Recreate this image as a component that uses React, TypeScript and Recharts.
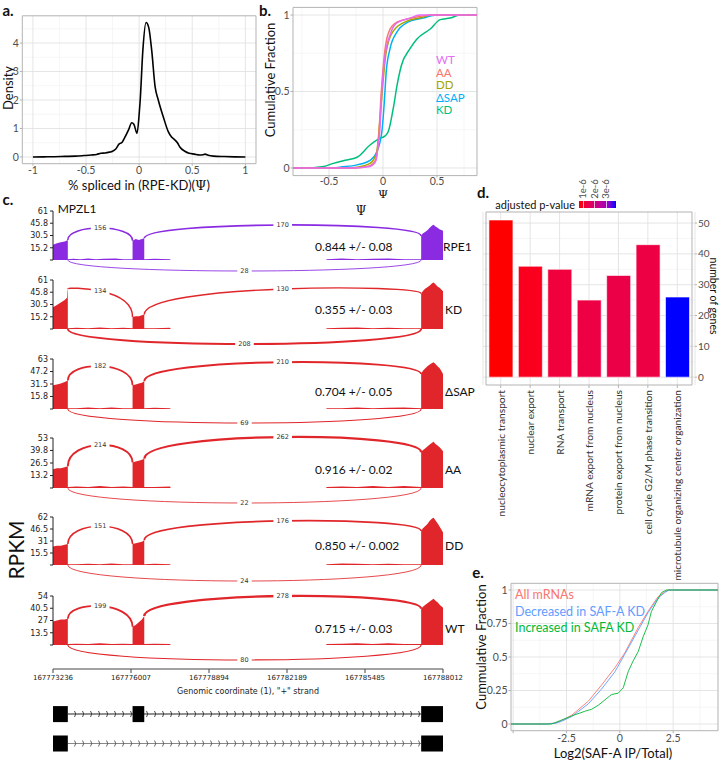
import React from 'react';
import {
  ComposedChart, BarChart, Bar, Cell, Line, Area, XAxis, YAxis, CartesianGrid,
  ReferenceArea, ReferenceLine, ReferenceDot,
} from 'recharts';

const FONT = 'Lato, "Open Sans", sans-serif';
const DJV = '"DejaVu Sans", sans-serif';
const GRID_MAJOR = '#e2e2e2';
const GRID_MINOR = '#f0f0f0';
const FRAME = '#b3b3b3';
const TICK_TEXT = '#4d4d4d';

// a. density of psi difference (RPE - KD)
const DENSITY: [number, number][] = [
  [-1, 0], [-0.9, 0.005], [-0.8, 0.01], [-0.7, 0.02], [-0.6, 0.03], [-0.52, 0.05], [-0.45, 0.07],
  [-0.4, 0.09], [-0.36, 0.13], [-0.32, 0.14], [-0.28, 0.17], [-0.25, 0.2], [-0.22, 0.28], [-0.19, 0.45],
  [-0.16, 0.52], [-0.13, 0.72], [-0.1, 0.95], [-0.07, 1.2], [-0.05, 1.15], [-0.02, 0.83], [0, 1.5],
  [0.01, 2.0], [0.035, 3.75], [0.065, 4.72], [0.09, 4.55], [0.118, 3.75], [0.15, 2.47], [0.18, 2.0],
  [0.227, 1.41], [0.274, 0.89], [0.305, 0.7], [0.33, 0.62], [0.36, 0.5], [0.383, 0.35], [0.43, 0.2],
  [0.47, 0.13], [0.52, 0.1], [0.57, 0.07], [0.6, 0.08], [0.62, 0.1], [0.65, 0.06], [0.7, 0.03],
  [0.8, 0.015], [0.9, 0.005], [1, 0],
];

// b. cumulative psi per sample
const CDF_WT: [number, number][] = [
  [-0.83, 0], [-0.3, 0], [-0.17, 0.005], [-0.12, 0.01], [-0.08, 0.03], [-0.065, 0.05], [-0.05, 0.12],
  [-0.03, 0.24], [-0.01, 0.52], [0.02, 0.74], [0.065, 0.87], [0.13, 0.95], [0.25, 0.98], [0.34, 1], [0.87, 1],
];
const CDF_AA: [number, number][] = [
  [-0.83, 0], [-0.25, 0], [-0.12, 0.015], [-0.07, 0.05], [-0.04, 0.2], [-0.02, 0.45], [0.01, 0.72],
  [0.04, 0.86], [0.1, 0.94], [0.2, 0.97], [0.3, 0.985], [0.45, 1], [0.87, 1],
];
const CDF_DD: [number, number][] = [
  [-0.83, 0], [-0.3, 0], [-0.24, 0.005], [-0.12, 0.03], [-0.06, 0.1], [-0.03, 0.3], [0, 0.56],
  [0.03, 0.76], [0.1, 0.9], [0.22, 0.96], [0.37, 0.985], [0.44, 1], [0.87, 1],
];
const CDF_DSAP: [number, number][] = [
  [-0.83, 0], [-0.45, 0], [-0.4, 0.005], [-0.24, 0.02], [-0.12, 0.05], [-0.06, 0.1], [-0.01, 0.24],
  [0.01, 0.41], [0.03, 0.63], [0.065, 0.78], [0.13, 0.89], [0.22, 0.95], [0.37, 0.98], [0.5, 1], [0.87, 1],
];
const CDF_KD: [number, number][] = [
  [-0.83, 0], [-0.74, 0], [-0.55, 0.01], [-0.46, 0.03], [-0.35, 0.05], [-0.24, 0.07], [-0.12, 0.15],
  [-0.04, 0.19], [0.02, 0.21], [0.05, 0.24], [0.1, 0.41], [0.13, 0.54], [0.17, 0.67], [0.25, 0.78],
  [0.31, 0.84], [0.44, 0.91], [0.53, 0.97], [0.62, 0.98], [0.71, 1], [0.87, 1],
];
const B_NAMES = ['WT', 'AA', 'DD', 'ΔSAP', 'KD'];
const B_COLORS = ['#E76BF3', '#F8766D', '#A3A500', '#00B0F6', '#00BF7D'];
const B_CURVES = [CDF_WT, CDF_AA, CDF_DD, CDF_DSAP, CDF_KD];

// c. sashimi plot, x in units of the genomic axis ticks
const GENOMIC_TICKS = ['167773236', '167776007', '167778894', '167782189', '167785485', '167788012'];
const EXONS: [number, number][] = [[0, 0.19], [1.02, 1.17], [4.72, 5]];
const SAMPLES = ['RPE1', 'KD', 'ΔSAP', 'AA', 'DD', 'WT'];
const PSI = ['0.844 +/- 0.08', '0.355 +/- 0.03', '0.704 +/- 0.05', '0.916 +/- 0.02', '0.850 +/- 0.002', '0.715 +/- 0.03'];
const RPKM_TICKS = [
  [15.2, 30.5, 45.8, 61], [15.2, 30.5, 45.8, 61], [15.8, 31.5, 47.2, 63],
  [13.2, 26.5, 39.8, 53], [15.5, 31, 46.5, 62], [13.5, 27, 40.5, 54],
];
const COVERAGE: [number, number][][] = [
  [[0, 0], [0, 19], [0.05, 21], [0.1, 22], [0.15, 23], [0.19, 25], [0.19, 1], [0.26, 1.5], [0.35, 1], [0.45, 2], [0.55, 1], [0.65, 1.5], [0.8, 2], [0.9, 1], [1.02, 1],
    [1.02, 24], [1.06, 26], [1.1, 25], [1.14, 26], [1.17, 27], [1.17, 1], [1.3, 1.5], [1.5, 1], [1.51, 0], [3.5, 0], [3.51, 1], [3.7, 2], [3.9, 1], [4.1, 1.5], [4.3, 2], [4.5, 1], [4.72, 1],
    [4.72, 30], [4.74, 33], [4.77, 35], [4.8, 37], [4.83, 40], [4.86, 43], [4.88, 44], [4.9, 42], [4.93, 40], [4.96, 38], [4.99, 37], [5, 36], [5, 0]],
  [[0, 0], [0, 27], [0.05, 30], [0.1, 33], [0.15, 36], [0.18, 39], [0.185, 48], [0.19, 50], [0.19, 1], [0.3, 1.5], [0.45, 1], [0.6, 2], [0.75, 1], [0.9, 1.5], [1.02, 1],
    [1.02, 15], [1.06, 16], [1.1, 16], [1.14, 17], [1.17, 18], [1.17, 1], [1.3, 1], [1.5, 1.5], [1.51, 0], [3.5, 0], [3.51, 1], [3.7, 1.5], [3.9, 2], [4.1, 1], [4.3, 1.5], [4.5, 1], [4.72, 1],
    [4.72, 44], [4.74, 47], [4.77, 50], [4.8, 52], [4.83, 54], [4.86, 57], [4.88, 58], [4.9, 56], [4.93, 53], [4.96, 51], [4.99, 48], [5, 47], [5, 0]],
  [[0, 0], [0, 30], [0.05, 31], [0.1, 32], [0.15, 34], [0.19, 36], [0.19, 1], [0.3, 1], [0.45, 2], [0.6, 1], [0.75, 2], [0.9, 1], [1.02, 1],
    [1.02, 30], [1.06, 31], [1.1, 32], [1.14, 33], [1.17, 35], [1.17, 1], [1.3, 1.5], [1.5, 1], [1.51, 0], [3.5, 0], [3.51, 1], [3.7, 1], [3.9, 2], [4.1, 1], [4.3, 1.5], [4.5, 2], [4.72, 1],
    [4.72, 44], [4.74, 48], [4.77, 51], [4.8, 54], [4.83, 56], [4.86, 58], [4.88, 59], [4.9, 57], [4.93, 54], [4.96, 51], [4.99, 46], [5, 44], [5, 0]],
  [[0, 0], [0, 20], [0.05, 21], [0.1, 21], [0.15, 22], [0.19, 23], [0.19, 1], [0.3, 1.5], [0.45, 1], [0.6, 2], [0.75, 1], [0.9, 1.5], [1.02, 1],
    [1.02, 27], [1.06, 28], [1.1, 29], [1.14, 30], [1.17, 31], [1.17, 1], [1.3, 1], [1.5, 1.5], [1.51, 0], [3.5, 0], [3.51, 1], [3.7, 1.5], [3.9, 1], [4.1, 2], [4.3, 1], [4.5, 2], [4.72, 1],
    [4.72, 38], [4.74, 40], [4.77, 42], [4.8, 44], [4.83, 46], [4.86, 48], [4.88, 49], [4.9, 47], [4.93, 45], [4.96, 43], [4.99, 40], [5, 39], [5, 0]],
  [[0, 0], [0, 24], [0.05, 25], [0.1, 25], [0.15, 26], [0.19, 27], [0.19, 1], [0.3, 1], [0.45, 1.5], [0.6, 1], [0.75, 2], [0.9, 1], [1.02, 1],
    [1.02, 27], [1.06, 28], [1.1, 29], [1.14, 30], [1.17, 32], [1.17, 1], [1.3, 1.5], [1.5, 1], [1.51, 0], [3.5, 0], [3.51, 1], [3.7, 2], [3.9, 1.5], [4.1, 1], [4.3, 1.5], [4.5, 1], [4.72, 1],
    [4.72, 44], [4.74, 47], [4.77, 50], [4.8, 53], [4.83, 57], [4.86, 60], [4.88, 61], [4.9, 58], [4.93, 54], [4.96, 49], [4.99, 44], [5, 42], [5, 0]],
  [[0, 0], [0, 26], [0.05, 27], [0.1, 28], [0.15, 28], [0.19, 29], [0.19, 1], [0.3, 1.5], [0.45, 1], [0.6, 2], [0.75, 1], [0.9, 1.5], [1.02, 1],
    [1.02, 20], [1.06, 22], [1.1, 25], [1.14, 28], [1.17, 32], [1.17, 1], [1.3, 1.5], [1.5, 1], [1.51, 0], [3.5, 0], [3.51, 1], [3.7, 1.5], [3.9, 2], [4.1, 1], [4.3, 2], [4.5, 1], [4.72, 1],
    [4.72, 40], [4.74, 42], [4.77, 44], [4.8, 46], [4.83, 48], [4.86, 50], [4.88, 51], [4.9, 49], [4.93, 47], [4.96, 44], [4.99, 42], [5, 41], [5, 0]],
];
// junctions: [from, to, coverage at from, coverage at to, arc apex, reads]
const JUNCTIONS: number[][][] = [
  [[0.19, 1.02, 25, 24, 39.8, 156], [1.17, 4.72, 27, 30, 43.6, 170], [0.19, 4.72, 0, 0, -13.7, 28]],
  [[0.19, 1.02, 50, 15, 47.3, 134], [1.17, 4.72, 18, 44, 49.8, 130], [0.19, 4.72, 0, 0, -18.7, 208]],
  [[0.19, 1.02, 36, 30, 54, 182], [1.17, 4.72, 35, 44, 59, 210], [0.19, 4.72, 0, 0, -17.6, 69]],
  [[0.19, 1.02, 23, 27, 45.6, 214], [1.17, 4.72, 31, 38, 54, 262], [0.19, 4.72, 0, 0, -15.9, 22]],
  [[0.19, 1.02, 27, 27, 50, 151], [1.17, 4.72, 32, 44, 57, 176], [0.19, 4.72, 0, 0, -20.7, 24]],
  [[0.19, 1.02, 29, 20, 43, 199], [1.17, 4.72, 32, 40, 54, 278], [0.19, 4.72, 0, 0, -16.5, 80]],
];
// isoforms drawn under the tracks (indices into EXONS)
const ISOFORMS = [[0, 1, 2], [0, 2]];

// d. GO enrichment
const GO_TERMS = [
  'nucleocytoplasmic transport', 'nuclear export', 'RNA transport', 'mRNA export from nucleus',
  'protein export from nucleus', 'cell cycle G2/M phase transition', 'microtubule organizing center organization',
];
const GO_GENES = [51, 36, 35, 25, 33, 43, 26];
const GO_PADJ = [6.5e-7, 8.5e-7, 1.2e-6, 1.3e-6, 1.35e-6, 1.3e-6, 3.87e-6];
const PADJ_TICKS = [1e-6, 2e-6, 3e-6];

// e. cumulative SAF-A IP / total
const E_ALL: [number, number][] = [
  [-5.1, 0], [-3.5, 0], [-3, 0.008], [-2.73, 0.025], [-2.26, 0.065], [-1.48, 0.17], [-0.86, 0.29],
  [-0.23, 0.42], [0.23, 0.53], [0.86, 0.72], [1.32, 0.84], [1.79, 0.95], [2.1, 0.985], [2.26, 1], [4.6, 1],
];
const E_DEC: [number, number][] = [
  [-5.1, 0], [-3.4, 0], [-3, 0.006], [-2.73, 0.02], [-2.26, 0.055], [-1.48, 0.15], [-0.86, 0.26],
  [-0.23, 0.39], [0.23, 0.52], [0.86, 0.7], [1.32, 0.83], [1.79, 0.94], [2.1, 0.98], [2.3, 1], [4.6, 1],
];
const E_INC: [number, number][] = [
  [-5.1, 0], [-3.2, 0], [-3.04, 0.01], [-2.8, 0.025], [-2.26, 0.06], [-1.64, 0.095], [-1.32, 0.11],
  [-1.01, 0.14], [-0.7, 0.18], [-0.39, 0.22], [-0.08, 0.23], [0.16, 0.27], [0.39, 0.39], [0.62, 0.47],
  [0.86, 0.54], [1.09, 0.65], [1.32, 0.74], [1.48, 0.84], [1.71, 0.91], [1.95, 0.98], [2.18, 1], [4.6, 1],
];
const E_NAMES = ['All mRNAs', 'Decreased in SAF-A KD', 'Increased in SAFA KD'];
const E_COLORS = ['#F8766D', '#619CFF', '#00BA38'];
const E_CURVES = [E_ALL, E_DEC, E_INC];

const pts = (a: [number, number][]) => a.map(([x, y]) => ({ x, y }));

// red -> blue gradient interpolated in CIELAB (like ggplot)
const lin = (c: number) => { c /= 255; return c <= 0.04045 ? c / 12.92 : Math.pow((c + 0.055) / 1.055, 2.4); };
const gam = (c: number) => {
  const v = c <= 0.0031308 ? 12.92 * c : 1.055 * Math.pow(c, 1 / 2.4) - 0.055;
  return Math.round(Math.min(1, Math.max(0, v)) * 255);
};
const labF = (t: number) => (t > 0.008856 ? Math.cbrt(t) : 7.787 * t + 16 / 116);
function toLab(r: number, g: number, b: number) {
  const R = lin(r), G = lin(g), B = lin(b);
  const X = (0.4124 * R + 0.3576 * G + 0.1805 * B) / 0.95047;
  const Y = 0.2126 * R + 0.7152 * G + 0.0722 * B;
  const Z = (0.0193 * R + 0.1192 * G + 0.9505 * B) / 1.08883;
  return [116 * labF(Y) - 16, 500 * (labF(X) - labF(Y)), 200 * (labF(Y) - labF(Z))];
}
function fromLab(L: number, a: number, b: number) {
  const fy = (L + 16) / 116, fx = fy + a / 500, fz = fy - b / 200;
  const inv = (t: number) => (t * t * t > 0.008856 ? t * t * t : (t - 16 / 116) / 7.787);
  const X = inv(fx) * 0.95047, Y = inv(fy), Z = inv(fz) * 1.08883;
  const R = 3.2406 * X - 1.5372 * Y - 0.4986 * Z;
  const G = -0.9689 * X + 1.8758 * Y + 0.0415 * Z;
  const B = 0.0557 * X - 0.204 * Y + 1.057 * Z;
  return `rgb(${gam(R)},${gam(G)},${gam(B)})`;
}
const LAB_LO = toLab(255, 0, 0);
const LAB_HI = toLab(0, 0, 255);
const P_MIN = Math.min(...GO_PADJ);
const P_MAX = Math.max(...GO_PADJ);
const rampAt = (t: number) => fromLab(
  LAB_LO[0] + (LAB_HI[0] - LAB_LO[0]) * t,
  LAB_LO[1] + (LAB_HI[1] - LAB_LO[1]) * t,
  LAB_LO[2] + (LAB_HI[2] - LAB_LO[2]) * t,
);
const padjColor = (p: number) => rampAt((p - P_MIN) / (P_MAX - P_MIN));

// cubic arc through start / midpoint / end, as in sashimi plots
const sashimiArc = (ctx: any) => {
  let p: number[][] = [];
  return {
    areaStart() {},
    areaEnd() {},
    lineStart() { p = []; },
    point(x: number, y: number) { p.push([x, y]); },
    lineEnd() {
      if (p.length < 3) return;
      const a = p[0], m = p[1], b = p[p.length - 1];
      const cy = (m[1] - 0.125 * (a[1] + b[1])) / 0.75;
      ctx.moveTo(a[0], a[1]);
      ctx.bezierCurveTo(a[0], cy, b[0], cy, b[0], b[1]);
    },
  };
};

function Txt({ x, y, size = 12, color = '#111', rotate = 0, align = 'middle', bold = false, family = FONT, children }: any) {
  const tx = align === 'start' ? '0%' : align === 'end' ? '-100%' : '-50%';
  return (
    <div style={{
      position: 'absolute', left: x, top: y, transform: `translate(${tx}, -50%) rotate(${rotate}deg)`,
      fontSize: size, lineHeight: 1, whiteSpace: 'nowrap', color, fontFamily: family, fontWeight: bold ? 700 : 400,
    }}>
      {children}
    </div>
  );
}

const tickStyle = { fill: TICK_TEXT, fontSize: 10.5, fontFamily: FONT };
const PURPLE = '#8a2be2';
const RED = '#e0262a';
// pixel rows of each track: [baseline, top tick]
const TRACK_PX = [[260, 211], [329, 280], [409, 359], [488, 438], [565, 517], [645, 596]];
const PSI_Y = [247, 310, 392, 470, 546, 629];

function SashimiTrack({ i }: { i: number }) {
  const ticks = RPKM_TICKS[i];
  const top = ticks[ticks.length - 1];
  const [base, topPx] = TRACK_PX[i];
  const k = (base - topPx) / top;
  const hi = top + 12 / k;
  const lo = -24 / k;
  const plotH = (hi - lo) * k;
  const last = i === SAMPLES.length - 1;
  const axisH = last ? 30 : 0;
  const color = i === 0 ? PURPLE : RED;
  return (
    <div style={{ position: 'absolute', left: 0, top: topPx - 12 }}>
      <ComposedChart width={480} height={plotH + axisH} data={pts(COVERAGE[i])} margin={{ top: 0, right: 37, bottom: 0, left: 0 }}>
        <XAxis
          type="number" dataKey="x" domain={[0, 5]} ticks={[0, 1, 2, 3, 4, 5]} hide={!last} height={axisH}
          tickFormatter={(v: number) => GENOMIC_TICKS[v]} stroke="#444" tickSize={4} tickMargin={2}
          tick={{ fill: '#222', fontSize: 7, fontFamily: DJV }} interval={0}
        />
        <YAxis
          type="number" domain={[lo, hi]} ticks={[0, ...ticks]} width={53} axisLine={false}
          tickFormatter={(v: number) => (v === 0 ? '' : String(v))} tickSize={3} tickMargin={2}
          tickLine={{ stroke: '#222' }} tick={{ fill: '#222', fontSize: 8, fontFamily: DJV }} interval={0}
        />
        <ReferenceLine segment={[{ x: 0, y: 0 }, { x: 0, y: top }]} stroke="#222" />
        <Area dataKey="y" type="linear" baseValue={0} fill={color} fillOpacity={1} stroke="none" isAnimationActive={false} />
        {JUNCTIONS[i].map(([x0, x1, y0, y1, apex, reads], j) => (
          <Line
            key={`arc-${j}`} data={[{ x: x0, y: y0 }, { x: (x0 + x1) / 2, y: apex }, { x: x1, y: y1 }]}
            dataKey="y" type={sashimiArc as any} stroke={color} strokeWidth={0.7 + reads / 170}
            dot={false} activeDot={false} isAnimationActive={false}
          />
        ))}
        {JUNCTIONS[i].map(([x0, x1, , , apex, reads], j) => (
          <ReferenceDot
            key={`lbl-${j}`} x={(x0 + x1) / 2} y={apex} r={0}
            shape={(p: any) => {
              const w = String(reads).length * 4.2 + 6;
              return (
                <g>
                  <rect x={p.cx - w / 2} y={p.cy - 4.5} width={w} height={9} fill="#fff" />
                  <text x={p.cx} y={p.cy} textAnchor="middle" dominantBaseline="central" fontSize={6.5} fontFamily={DJV} fill="#333">{reads}</text>
                </g>
              );
            }}
          />
        ))}
      </ComposedChart>
    </div>
  );
}

function GeneModel() {
  const rowY = [1.53, 0.55];
  const halfBox = 0.267;
  const halfLine = 0.14;
  return (
    <div style={{ position: 'absolute', left: 0, top: 700 }}>
      <ComposedChart width={480} height={60} margin={{ top: 0, right: 37, bottom: 0, left: 53 }}>
        <defs>
          <pattern id="chev0" width="8" height="60" patternUnits="userSpaceOnUse">
            <path d="M0 14 H8" stroke="#222" strokeWidth={1} />
            <path d="M2.5 11 Q5 14 2.5 17" stroke="#222" strokeWidth={0.8} fill="none" />
          </pattern>
          <pattern id="chev1" width="8" height="60" patternUnits="userSpaceOnUse">
            <path d="M0 43.5 H8" stroke="#888" strokeWidth={1} />
            <path d="M2.5 40.5 Q5 43.5 2.5 46.5" stroke="#444" strokeWidth={0.8} fill="none" />
          </pattern>
        </defs>
        <XAxis type="number" dataKey="x" domain={[0, 5]} allowDataOverflow hide />
        <YAxis type="number" dataKey="y" domain={[0, 2]} allowDataOverflow hide />
        {ISOFORMS.map((ex, r) => (
          <Line
            key={`row-${r}`} data={ex.flatMap((e) => EXONS[e]).map((x) => ({ x, y: rowY[r] }))}
            dataKey="y" stroke="none" dot={false} activeDot={false} isAnimationActive={false}
          />
        ))}
        {ISOFORMS.map((ex, r) => (
          <ReferenceArea
            key={`intr-${r}`} x1={EXONS[ex[0]][1]} x2={EXONS[ex[ex.length - 1]][0]}
            y1={rowY[r] - halfLine} y2={rowY[r] + halfLine} fill={`url(#chev${r})`} fillOpacity={1} stroke="none"
          />
        ))}
        {ISOFORMS.map((ex, r) => ex.map((e) => (
          <ReferenceArea
            key={`ex-${r}-${e}`} x1={EXONS[e][0]} x2={EXONS[e][1]}
            y1={rowY[r] - halfBox} y2={rowY[r] + halfBox} fill="#000" fillOpacity={1} stroke="none"
          />
        )))}
      </ComposedChart>
    </div>
  );
}

const TermTick = ({ x, y, payload }: any) => (
  <text x={x} y={y} transform={`rotate(-90 ${x} ${y})`} textAnchor="end" dominantBaseline="central"
    fontSize={10.2} fontFamily={FONT} fill="#333">
    {payload.value}
  </text>
);

export default function App() {
  const goData = GO_TERMS.map((term, i) => ({ term, genes: GO_GENES[i], padj: GO_PADJ[i] }));
  const rampCss = `linear-gradient(to right, ${[0, 0.2, 0.4, 0.6, 0.8, 1].map((t) => rampAt(t)).join(', ')})`;
  return (
    <div style={{ position: 'absolute', left: 0, top: 0, width: 720, height: 762, background: '#fff', overflow: 'hidden', fontFamily: FONT }}>
      {/* a. */}
      <div style={{ position: 'absolute', left: 0, top: 0 }}>
        <ComposedChart width={260} height={200} data={pts(DENSITY)} margin={{ top: 15.8, right: 4, bottom: 0, left: 0 }}>
          <CartesianGrid stroke={GRID_MINOR} strokeWidth={0.6} verticalValues={[-0.75, -0.25, 0.25, 0.75]} horizontalValues={[0.5, 1.5, 2.5, 3.5, 4.5]} />
          <CartesianGrid stroke={GRID_MAJOR} strokeWidth={0.9} verticalValues={[-1, -0.5, 0, 0.5, 1]} horizontalValues={[0, 1, 2, 3, 4]} />
          <XAxis type="number" dataKey="x" domain={[-1.1, 1.1]} ticks={[-1, -0.5, 0, 0.5, 1]} height={36.3} axisLine={false}
            tickSize={2} tickMargin={0.5} tickLine={{ stroke: FRAME }} tick={tickStyle} interval={0} />
          <YAxis type="number" domain={[-0.236, 4.956]} ticks={[0, 1, 2, 3, 4]} width={22.3} axisLine={false}
            tickSize={2.5} tickMargin={1} tickLine={{ stroke: FRAME }} tick={tickStyle} interval={0} />
          <ReferenceArea x1={-1.1} x2={1.1} y1={-0.236} y2={4.956} fill="none" stroke={FRAME} />
          <Line dataKey="y" type="monotone" stroke="#000" strokeWidth={1.6} dot={false} activeDot={false} isAnimationActive={false} />
        </ComposedChart>
      </div>
      <Txt x={8} y={10} size={15} bold>a.</Txt>
      <Txt x={8} y={88} size={13} rotate={-90}>Density</Txt>
      <Txt x={139} y={185} size={13}>% spliced in (RPE-KD)(<span style={{ fontFamily: '"DejaVu Serif", serif' }}>Ψ</span>)</Txt>

      {/* b. */}
      <div style={{ position: 'absolute', left: 250, top: 0 }}>
        <ComposedChart width={235} height={200} margin={{ top: 7.4, right: 8, bottom: 0, left: 0 }}>
          <CartesianGrid stroke={GRID_MINOR} strokeWidth={0.6} verticalValues={[-0.75, -0.25, 0.25, 0.75]} horizontalValues={[0.25, 0.75]} />
          <CartesianGrid stroke={GRID_MAJOR} strokeWidth={0.9} verticalValues={[-0.5, 0, 0.5]} horizontalValues={[0, 0.5, 1]} />
          <XAxis type="number" dataKey="x" domain={[-0.833, 0.87]} ticks={[-0.5, 0, 0.5]} height={24.4} axisLine={false}
            tickSize={2} tickMargin={0} tickLine={{ stroke: FRAME }} tick={tickStyle} interval={0} />
          <YAxis type="number" domain={[-0.05, 1.05]} ticks={[0, 0.5, 1]} width={43} axisLine={false}
            tickSize={2.5} tickMargin={1} tickLine={{ stroke: FRAME }} tick={tickStyle} interval={0} />
          <ReferenceArea x1={-0.833} x2={0.87} y1={-0.05} y2={1.05} fill="none" stroke={FRAME} />
          {[4, 3, 2, 1, 0].map((s) => (
            <Line key={B_NAMES[s]} data={pts(B_CURVES[s])} dataKey="y" type="monotone" stroke={B_COLORS[s]} strokeWidth={1.5}
              dot={false} activeDot={false} isAnimationActive={false} />
          ))}
        </ComposedChart>
      </div>
      <Txt x={265} y={10} size={15} bold>b.</Txt>
      <Txt x={270} y={80} size={13} rotate={-90}>Cumulative Fraction</Txt>
      <Txt x={383} y={195} size={11.5} family='"DejaVu Serif", serif'>Ψ</Txt>
      {B_NAMES.map((n, s) => (
        <Txt key={n} x={436} y={60 + s * 12.5} size={11.5} align="start" color={B_COLORS[s]}>{n}</Txt>
      ))}

      {/* c. */}
      {SAMPLES.map((s, i) => <SashimiTrack key={s} i={i} />)}
      <GeneModel />
      <Txt x={8} y={199} size={15} bold>c.</Txt>
      <Txt x={77} y={209} size={12}>MPZL1</Txt>
      <Txt x={361} y={211} size={12} family='"DejaVu Serif", serif'>Ψ</Txt>
      <Txt x={15} y={550} size={21} rotate={-90}>RPKM</Txt>
      {SAMPLES.map((s, i) => (
        <React.Fragment key={`t-${s}`}>
          <Txt x={315} y={PSI_Y[i]} size={12} align="start">{PSI[i]}</Txt>
          <Txt x={i === 0 ? 443 : 445} y={PSI_Y[i]} size={12} align="start">{s}</Txt>
        </React.Fragment>
      ))}
      <Txt x={248} y={692} size={8} family={DJV} color="#222">Genomic coordinate (1), "+" strand</Txt>

      {/* d. */}
      <div style={{ position: 'absolute', left: 470, top: 200 }}>
        <BarChart width={250} height={400} data={goData} margin={{ top: 12, right: 0, bottom: 0, left: 13 }} barCategoryGap="10%">
          <CartesianGrid stroke={GRID_MINOR} strokeWidth={0.6} vertical={false} horizontalValues={[5, 15, 25, 35, 45]} />
          <CartesianGrid stroke={GRID_MAJOR} strokeWidth={0.9} horizontalValues={[0, 10, 20, 30, 40, 50]} />
          <XAxis dataKey="term" interval={0} height={215} tick={<TermTick />} tickSize={3} tickMargin={2}
            axisLine={false} tickLine={{ stroke: FRAME }} padding={{ left: 3, right: 3 }} />
          <YAxis orientation="right" type="number" domain={[-2.55, 53.6]} ticks={[0, 10, 20, 30, 40, 50]} width={25}
            axisLine={false} tickSize={2} tickMargin={1} tickLine={{ stroke: FRAME }} tick={{ ...tickStyle, fontSize: 10 }} interval={0} />
          <Bar dataKey="genes" isAnimationActive={false} stroke="rgba(255,255,255,0.6)" strokeWidth={1}>
            {goData.map((d) => <Cell key={d.term} fill={padjColor(d.padj)} />)}
          </Bar>
          <ReferenceArea y1={-2.55} y2={53.6} fill="none" stroke={FRAME} ifOverflow="visible" />
        </BarChart>
      </div>
      <Txt x={483} y={192} size={15} bold>d.</Txt>
      <Txt x={575} y={204} size={11} align="end">adjusted p-value</Txt>
      <div style={{ position: 'absolute', left: 579, top: 201, width: 37, height: 7, background: rampCss }} />
      {PADJ_TICKS.map((p) => {
        const x = 579 + ((p - P_MIN) / (P_MAX - P_MIN)) * 37;
        return (
          <React.Fragment key={p}>
            <div style={{ position: 'absolute', left: x - 0.5, top: 201, width: 1, height: 7, background: 'rgba(255,255,255,0.7)' }} />
            <Txt x={x} y={189} size={9.5} rotate={-90} color={TICK_TEXT}>{`${p * 1e6}e-6`}</Txt>
          </React.Fragment>
        );
      })}
      <Txt x={714.2} y={296} size={10.5} rotate={90}>number of genes</Txt>

      {/* e. */}
      <div style={{ position: 'absolute', left: 420, top: 560 }}>
        <ComposedChart width={300} height={200} margin={{ top: 23.3, right: 2, bottom: 0, left: 0 }}>
          <CartesianGrid stroke={GRID_MINOR} strokeWidth={0.6} verticalValues={[-3.75, -1.25, 1.25, 3.75]} horizontalValues={[0.125, 0.375, 0.625, 0.875]} />
          <CartesianGrid stroke={GRID_MAJOR} strokeWidth={0.9} verticalValues={[-5, -2.5, 0, 2.5]} horizontalValues={[0, 0.25, 0.5, 0.75, 1]} />
          <XAxis type="number" dataKey="x" domain={[-5.1, 4.6]} ticks={[-5, -2.5, 0, 2.5]} height={29.3} axisLine={false}
            tickFormatter={(v: number) => (v === -5 ? '' : String(v))}
            tickSize={2.5} tickMargin={1} tickLine={{ stroke: FRAME }} tick={tickStyle} interval={0} />
          <YAxis type="number" domain={[-0.05, 1.05]} ticks={[0, 0.25, 0.5, 0.75, 1]} width={91} axisLine={false}
            tickSize={2.5} tickMargin={1} tickLine={{ stroke: FRAME }} tick={tickStyle} interval={0} />
          <ReferenceArea x1={-5.1} x2={4.6} y1={-0.05} y2={1.05} fill="none" stroke={FRAME} />
          {E_CURVES.map((c, s) => (
            <Line key={E_NAMES[s]} data={pts(c)} dataKey="y" type="linear" stroke={E_COLORS[s]} strokeWidth={0.9}
              dot={false} activeDot={false} isAnimationActive={false} />
          ))}
        </ComposedChart>
      </div>
      <Txt x={478} y={572} size={15} bold>e.</Txt>
      {E_NAMES.map((n, s) => (
        <Txt key={n} x={515} y={595 + s * 16.5} size={12.5} align="start" color={E_COLORS[s]}>{n}</Txt>
      ))}
      <Txt x={481} y={647} size={13} rotate={-90}>Cummulative Fraction</Txt>
      <Txt x={613} y={753} size={13}>Log2(SAF-A IP/Total)</Txt>
    </div>
  );
}
